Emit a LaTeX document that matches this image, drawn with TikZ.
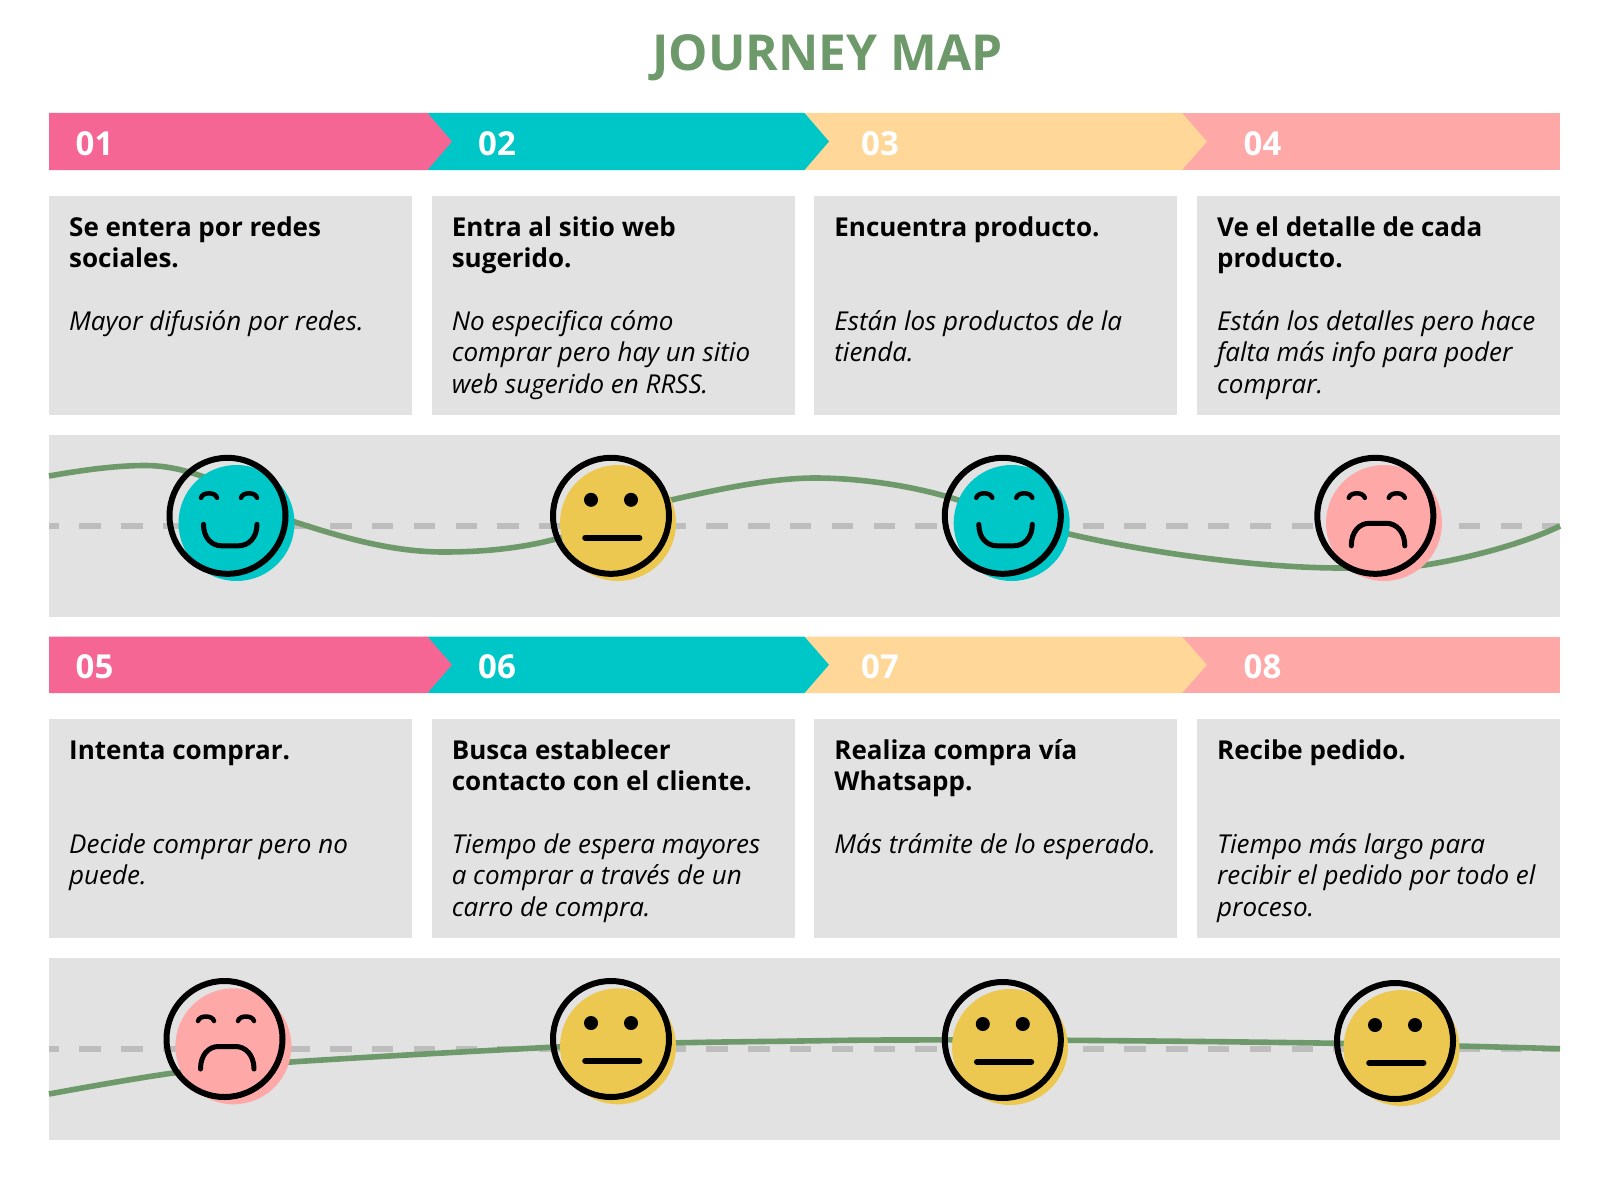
\documentclass[tikz,border=0pt]{standalone}
\usepackage{fontspec}
\setmainfont{Open Sans}
\usetikzlibrary{calc}

\definecolor{rosebar}{HTML}{F56694}
\definecolor{tealbar}{HTML}{00C7C7}
\definecolor{peachbar}{HTML}{FFD899}
\definecolor{salmonbar}{HTML}{FFA8A8}
\definecolor{panelgrey}{HTML}{E2E2E2}
\definecolor{dashgrey}{HTML}{BDBDBD}
\definecolor{mood}{HTML}{6E9A6B}
\definecolor{mustard}{HTML}{ECC851}

\begin{document}
\begin{tikzpicture}[x=1pt,y=-1pt,
    card/.style={fill=panelgrey,anchor=north west,minimum width=362.7pt,minimum height=219pt,inner sep=0pt},
    panel/.style={fill=panelgrey,anchor=north west,minimum width=1511pt,minimum height=182.3pt,inner sep=0pt},
    head/.style={anchor=north west,inner sep=0pt,text width=342pt,align=left,font=\fontsize{26}{31.5}\selectfont\bfseries,execute at begin node={\spaceskip=0pt\xspaceskip=0pt\strut}},
    note/.style={anchor=north west,inner sep=0pt,text width=342pt,align=left,font=\fontsize{26}{31.5}\selectfont\itshape,execute at begin node={\spaceskip=0pt\xspaceskip=0pt\strut}},
    num/.style={anchor=base west,inner sep=0pt,text=white,font=\fontsize{33}{36}\selectfont\bfseries},
    base/.style={dashgrey,line width=5.6pt,dash pattern=on 21.4pt off 20.4pt,dash phase=11.4pt},
    curve/.style={mood,line width=5.6pt},
    disc/.style={circle,minimum size=116pt,inner sep=0pt},
    ring/.style={circle,draw=black,line width=6pt,minimum size=116pt,inner sep=0pt},
    feature/.style={black,line width=5pt,line cap=round},
    brow/.style={black,line width=4.5pt,line cap=round},
    happy/.pic={
      \draw[brow] (-26.5,-18) .. controls (-25,-24) and (-12,-24) .. (-10.5,-18);
      \draw[brow] (13.5,-18) .. controls (15,-24) and (28,-24) .. (29.5,-18);
      \draw[feature] (-24,8.5) .. controls (-24,22) and (-16,30) .. (-6,30) -- (11,30) .. controls (21,30) and (29.5,22) .. (29.5,8.5);
    },
    sad/.pic={
      \draw[brow] (-26.5,-18) .. controls (-25,-24) and (-12,-24) .. (-10.5,-18);
      \draw[brow] (13.5,-18) .. controls (15,-24) and (28,-24) .. (29.5,-18);
      \draw[feature] (-24,30) .. controls (-24,16) and (-16,7.5) .. (-6,7.5) -- (11,7.5) .. controls (21,7.5) and (29.5,16) .. (29.5,30);
    },
    flat/.pic={
      \fill[black] (-20,-16) circle (7);
      \fill[black] (20,-16) circle (7);
      \draw[black,line width=6pt,line cap=round] (-25.8,22) -- (28.4,22);
    }]
  \useasboundingbox (0,0) rectangle (1600,1188);

  \node[anchor=base,inner sep=0pt,text=mood,font=\fontsize{49.6}{54}\selectfont\bfseries] (title) at (827.5,71) {JOURNEY MAP};

  % first row bars
  \fill[salmonbar] (1182,113) -- (1560,113) -- (1560,170) -- (1182,170) -- cycle;
  \fill[peachbar] (804.5,113) -- (1182,113) -- (1207,141.5) -- (1182,170) -- (804.5,170) -- cycle;
  \fill[tealbar] (427.5,113) -- (804.5,113) -- (829,141.5) -- (804.5,170) -- (427.5,170) -- cycle;
  \fill[rosebar] (49,113) -- (427.5,113) -- (452,141.5) -- (427.5,170) -- (49,170) -- cycle;
  \node[num] (n1) at (75.5,155) {01};
  \node[num] (n2) at (478,155) {02};
  \node[num] (n3) at (861,155) {03};
  \node[num] (n4) at (1243.5,155) {04};

  % first row cards
  \node[card] (card1) at (49,196) {};
  \node[card] (card2) at (431.6,196) {};
  \node[card] (card3) at (814.2,196) {};
  \node[card] (card4) at (1197,196) {};

  \node[head] (head1) at ($ (card1.north west) + (20,18) $) {Se entera por redes\\sociales.};
  \node[head] (head2) at ($ (card2.north west) + (20,18) $) {Entra al sitio web\\sugerido.};
  \node[head] (head3) at ($ (card3.north west) + (20,18) $) {Encuentra producto.};
  \node[head] (head4) at ($ (card4.north west) + (20,18) $) {Ve el detalle de cada\\producto.};

  \node[note] (note1) at ($ (card1.north west) + (20,112) $) {Mayor difusión por redes.};
  \node[note] (note2) at ($ (card2.north west) + (20,112) $) {No especifica cómo\\comprar pero hay un sitio\\web sugerido en RRSS.};
  \node[note] (note3) at ($ (card3.north west) + (20,112) $) {Están los productos de la\\tienda.};
  \node[note] (note4) at ($ (card4.north west) + (20,112) $) {Están los detalles pero hace\\falta más info para poder\\comprar.};

  % first row mood
  \node[panel] (panel1) at (49,434.7) {};
  \draw[base] (49,525.7) -- (1560,525.7);
  \draw[curve] (49,476) .. controls (80,470.5) and (115,465.5) .. (145,465.5)
    .. controls (200,465.5) and (245,497) .. (294,521.7)
    .. controls (340,536.5) and (390,552) .. (444,552)
    .. controls (485,552) and (522,548) .. (556,539)
    .. controls (590,530) and (640,507) .. (671,500)
    .. controls (715,490) and (770,478) .. (815,478)
    .. controls (860,478) and (915,486) .. (958,500)
    .. controls (985,510) and (1030,523) .. (1069,534)
    .. controls (1150,553) and (1260,568) .. (1341,568)
    .. controls (1370,568) and (1400,568) .. (1425,565)
    .. controls (1470,558) and (1525,543) .. (1560,526);

  \node[disc,fill=tealbar] (disc1) at (236.5,523) {};
  \node[ring] (ring1) at (227.5,515.8) {};
  \pic at (ring1) {happy};
  \node[disc,fill=mustard] (disc2) at (618,523) {};
  \node[ring] (ring2) at (611,515.8) {};
  \pic at (ring2) {flat};
  \node[disc,fill=tealbar] (disc3) at (1011.7,523) {};
  \node[ring] (ring3) at (1002.8,515.8) {};
  \pic at (ring3) {happy};
  \node[disc,fill=salmonbar] (disc4) at (1384,523) {};
  \node[ring] (ring4) at (1375.3,515.8) {};
  \pic at (ring4) {sad};

  % second row bars
  \fill[salmonbar] (1182,636.7) -- (1560,636.7) -- (1560,693) -- (1182,693) -- cycle;
  \fill[peachbar] (804.5,636.7) -- (1182,636.7) -- (1207,664.8) -- (1182,693) -- (804.5,693) -- cycle;
  \fill[tealbar] (427.5,636.7) -- (804.5,636.7) -- (829,664.8) -- (804.5,693) -- (427.5,693) -- cycle;
  \fill[rosebar] (49,636.7) -- (427.5,636.7) -- (452,664.8) -- (427.5,693) -- (49,693) -- cycle;
  \node[num] (n5) at (75.5,678) {05};
  \node[num] (n6) at (478,678) {06};
  \node[num] (n7) at (861,678) {07};
  \node[num] (n8) at (1243.5,678) {08};

  % second row cards
  \node[card] (card5) at (49,719) {};
  \node[card] (card6) at (431.6,719) {};
  \node[card] (card7) at (814.2,719) {};
  \node[card] (card8) at (1197,719) {};

  \node[head] (head5) at ($ (card5.north west) + (20,18) $) {Intenta comprar.};
  \node[head] (head6) at ($ (card6.north west) + (20,18) $) {Busca establecer\\contacto con el cliente.};
  \node[head] (head7) at ($ (card7.north west) + (20,18) $) {Realiza compra vía\\Whatsapp.};
  \node[head] (head8) at ($ (card8.north west) + (20,18) $) {Recibe pedido.};

  \node[note] (note5) at ($ (card5.north west) + (20,112) $) {Decide comprar pero no\\puede.};
  \node[note] (note6) at ($ (card6.north west) + (20,112) $) {Tiempo de espera mayores\\a comprar a través de un\\carro de compra.};
  \node[note] (note7) at ($ (card7.north west) + (20,112) $) {Más trámite de lo esperado.};
  \node[note] (note8) at ($ (card8.north west) + (20,112) $) {Tiempo más largo para\\recibir el pedido por todo el\\proceso.};

  % second row mood
  \node[panel] (panel2) at (49,957.7) {};
  \draw[base] (49,1048.7) -- (1560,1048.7);
  \draw[curve] plot[smooth,tension=0.6] coordinates {(49,1094) (173.5,1073) (291,1062) (556,1047) (671,1043) (800,1041) (892,1040) (1070,1040.3) (1336,1043.3) (1560,1048.7)};

  \node[disc,fill=salmonbar] (disc5) at (233.4,1046.3) {};
  \node[ring] (ring5) at (224.5,1039) {};
  \pic at (ring5) {sad};
  \node[disc,fill=mustard] (disc6) at (618,1046.3) {};
  \node[ring] (ring6) at (611,1039) {};
  \pic at (ring6) {flat};
  \node[disc,fill=mustard] (disc7) at (1010,1047) {};
  \node[ring] (ring7) at (1002.8,1040) {};
  \pic at (ring7) {flat};
  \node[disc,fill=mustard] (disc8) at (1401.5,1048) {};
  \node[ring] (ring8) at (1395,1041) {};
  \pic at (ring8) {flat};
\end{tikzpicture}
\end{document}
